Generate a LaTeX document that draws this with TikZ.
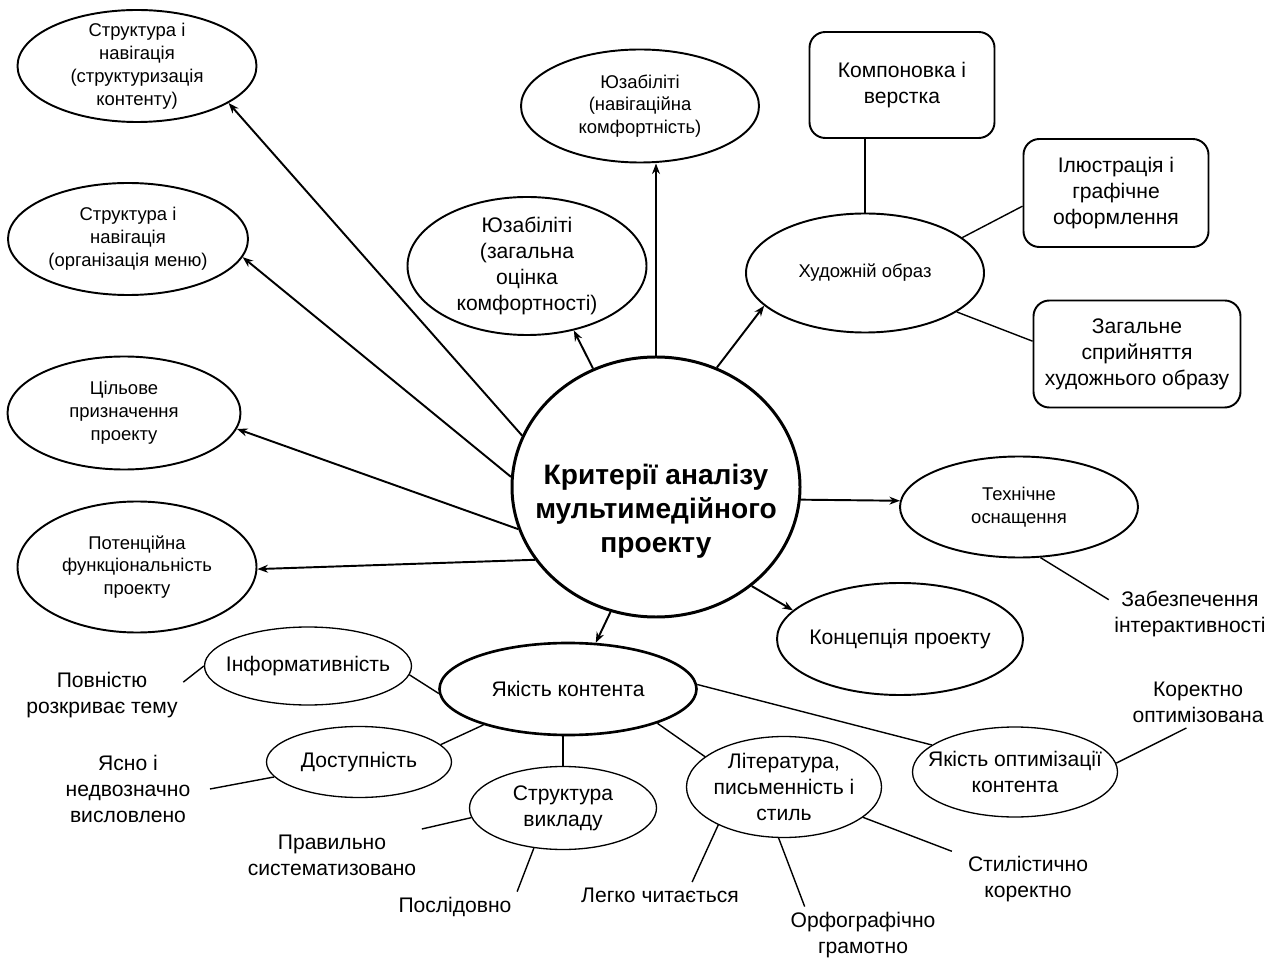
\documentclass[tikz,border=0pt]{standalone}
\usepackage{fontspec}
\setmainfont{Liberation Sans}
\usetikzlibrary{arrows.meta, shapes.geometric}

\begin{document}
\begin{tikzpicture}[x=0.02cm, y=-0.02cm,
  every node/.style={align=center},
  sm/.style={font=\fontsize{10.5}{13}\selectfont},
  md/.style={font=\fontsize{12}{14.8}\selectfont},
  oval/.style={ellipse, draw, line width=1.1pt, inner sep=-12pt},
  soval/.style={ellipse, draw, line width=0.75pt, inner sep=-12pt, md},
  rbox/.style={draw, rounded corners=9pt, line width=1.1pt, inner sep=0pt, md},
  lbl/.style={md, inner sep=3pt},
  arr/.style={-{Stealth[length=6pt,width=4.5pt]}, line width=1.1pt},
  lnk/.style={line width=0.8pt}]

  \def\pw{0.02}
  \useasboundingbox (0,0) rectangle (1288,962);

  % Centre
  \node[oval, line width=1.7pt, minimum width=288*\pw cm, minimum height=260*\pw cm] (crit) at (656,487) {};
  \node[font=\fontsize{16}{19.5}\selectfont\bfseries] (crit-txt) at (656,511) {Критерії аналізу\\мультимедійного\\проекту};

  % Left side
  \node[oval, sm, minimum width=239*\pw cm, minimum height=112*\pw cm] (nav1) at (137,66) {Структура і\\навігація\\(структуризація\\контенту)};
  \node[oval, sm, minimum width=240*\pw cm, minimum height=112*\pw cm] (nav2) at (128,239) {Структура і\\навігація\\(організація меню)};
  \node[oval, sm, minimum width=233*\pw cm, minimum height=113*\pw cm] (goal) at (124,413) {Цільове\\призначення\\проекту};
  \node[oval, sm, minimum width=239*\pw cm, minimum height=131*\pw cm] (func) at (137,567) {Потенційна\\функціональність\\проекту};

  % Top
  \node[oval, md, minimum width=239*\pw cm, minimum height=138*\pw cm] (usab1) at (527,266) {Юзабіліті\\(загальна\\оцінка\\комфортності)};
  \node[oval, sm, minimum width=238*\pw cm, minimum height=113*\pw cm] (usab2) at (640,106) {Юзабіліті\\(навігаційна\\комфортність)};

  % Artistic image and its boxes
  \node[oval, sm, minimum width=238*\pw cm, minimum height=119*\pw cm] (art) at (865,273) {Художній образ};
  \node[rbox, minimum width=185*\pw cm, minimum height=106*\pw cm] (layout) at (902,85) {Компоновка і\\верстка};
  \node[rbox, minimum width=185*\pw cm, minimum height=108*\pw cm] (illus) at (1116,193) {Ілюстрація і\\графічне\\оформлення};
  \node[rbox, minimum width=207*\pw cm, minimum height=107*\pw cm] (percep) at (1137,354) {Загальне\\сприйняття\\художнього образу};

  % Right side
  \node[oval, sm, minimum width=238*\pw cm, minimum height=101*\pw cm] (tech) at (1019,507) {Технічне\\оснащення};
  \node[lbl] (interact) at (1190,614) {Забезпечення\\інтерактивності};
  \node[oval, md, minimum width=246*\pw cm, minimum height=112*\pw cm] (concept) at (900,639) {Концепція проекту};

  % Content quality
  \node[oval, md, line width=1.5pt, minimum width=257*\pw cm, minimum height=92*\pw cm] (qual) at (568,689) {Якість контента};
  \node[soval, minimum width=207*\pw cm, minimum height=78*\pw cm] (inform) at (308,666) {Інформативність};
  \node[soval, minimum width=185*\pw cm, minimum height=71*\pw cm] (access) at (359,762) {Доступність};
  \node[soval, minimum width=187*\pw cm, minimum height=83*\pw cm] (struct) at (563,808) {Структура\\викладу};
  \node[soval, minimum width=195*\pw cm, minimum height=101*\pw cm] (lit) at (784,787) {Література,\\письменність і\\стиль};
  \node[soval, minimum width=205*\pw cm, minimum height=90*\pw cm] (optim) at (1015,772) {Якість оптимізації\\контента};

  % Free labels
  \node[lbl] (full) at (102,695) {Повністю\\розкриває тему};
  \node[lbl, inner xsep=11pt] (clear) at (128,789) {Ясно і\\недвозначно\\висловлено};
  \node[lbl] (sys) at (332,855) {Правильно\\систематизовано};
  \node[lbl] (seq) at (455,907) {Послідовно};
  \node[lbl] (easy) at (660,895) {Легко читається};
  \node[lbl] (spell) at (863,935) {Орфографічно\\грамотно};
  \node[lbl, inner sep=9pt] (style) at (1028,879) {Стилістично\\коректно};
  \node[lbl] (optok) at (1198,702) {Коректно\\оптимізована};

  % Arrows from the centre
  \draw[arr] (crit.159) -- (nav1.-22);
  \draw[arr] (crit.176) -- (nav2.-9);
  \draw[arr] (crit.197) -- (goal.-8);
  \draw[arr] (crit.211) -- (func.-1);
  \draw[arr] (crit.118) -- (usab1.-54);
  \draw[arr] (crit.north) -- (crit.north |- usab2.south);
  \draw[arr] (crit.63) -- (art.198);
  \draw[arr] (crit.-5) -- (tech.177);
  \draw[arr] (crit.-46) -- (concept.165);
  \draw[arr] (crit.250) -- (qual.59);

  % Plain links
  \draw[lnk] (art.north) -- (art.north |- layout.south);
  \draw[lnk] (art.20) -- (illus.188);
  \draw[lnk] (art.-23) -- (percep.173);
  \draw[lnk] (tech.-67) -- (interact.170);

  \draw[lnk] (qual.182) -- (inform.-5);
  \draw[lnk] (inform.west) -- (full.9);
  \draw[lnk] (qual.203) -- (access.12);
  \draw[lnk] (access.190) -- (clear.east);
  \draw[lnk] (qual.south -| struct.north) -- (struct.north);
  \draw[lnk] (struct.186) -- (sys.north east);
  \draw[lnk] (struct.234) -- (seq.north east);
  \draw[lnk] (qual.-21) -- (lit.159);
  \draw[lnk] (lit.210) -- (easy.22);
  \draw[lnk] (lit.264) -- (spell.154);
  \draw[lnk] (lit.-21) -- (style.160);
  \draw[lnk] (qual.2) -- (optim.162);
  \draw[lnk] (optim.5) -- (optok.246);

\end{tikzpicture}
\end{document}
